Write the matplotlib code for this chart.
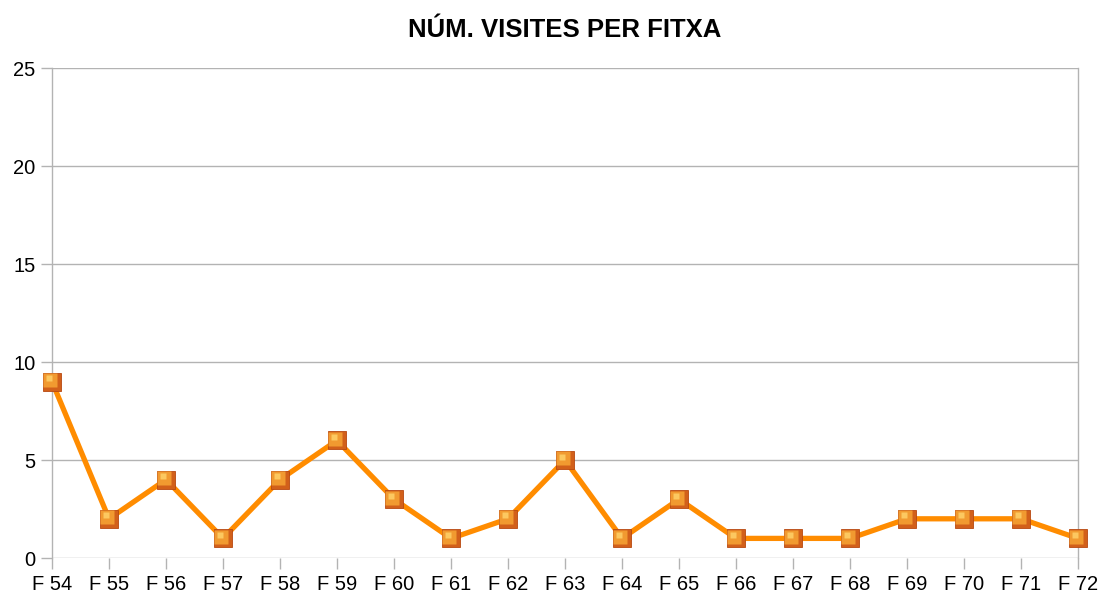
import matplotlib
matplotlib.use("Agg")
import matplotlib.pyplot as plt
import matplotlib.transforms as mtransforms

categories = ["F 54", "F 55", "F 56", "F 57", "F 58", "F 59", "F 60", "F 61", "F 62", "F 63",
              "F 64", "F 65", "F 66", "F 67", "F 68", "F 69", "F 70", "F 71", "F 72"]
visits = [9, 2, 4, 1, 4, 6, 3, 1, 2, 5, 1, 3, 1, 1, 1, 2, 2, 2, 1]
yticks = [0, 5, 10, 15, 20, 25]

plt.rcParams['font.family'] = ['Liberation Sans', 'DejaVu Sans']

fig = plt.figure(figsize=(11.04, 6.03), dpi=100)
ax = fig.add_axes([52/1104, 45/603, (1078-52)/1104, (558-68)/603])

x = list(range(len(categories)))
ax.plot(x, visits, color='#ff8c00', linewidth=3.8, zorder=3, solid_joinstyle='miter')
ax.plot(x, visits, linestyle='none', marker='s', markersize=12.5,
        markerfacecolor='#d2601a', markeredgecolor='#b84810', markeredgewidth=0.6, zorder=4)
off = mtransforms.offset_copy(ax.transData, fig=fig, x=-1.2, y=1.2, units='points')
ax.plot(x, visits, linestyle='none', marker='s', markersize=9.5,
        markerfacecolor='#f19a30', markeredgecolor='none', zorder=5, transform=off)
off2 = mtransforms.offset_copy(ax.transData, fig=fig, x=-2.5, y=2.5, units='points')
ax.plot(x, visits, linestyle='none', marker='s', markersize=5,
        markerfacecolor='#fcc860', markeredgecolor='none', zorder=6, transform=off2)

ax.set_xlim(0, len(categories) - 1)
ax.set_ylim(0, 25)
ax.set_xticks(x)
ax.set_xticklabels(categories)
ax.set_yticks(yticks)
ax.yaxis.grid(True, color='#b3b3b3', linewidth=1)
ax.set_axisbelow(True)
for s in ['top', 'bottom']:
    ax.spines[s].set_visible(False)
for s in ['left', 'right']:
    ax.spines[s].set_color('#b3b3b3')
    ax.spines[s].set_linewidth(1)
ax.tick_params(axis='both', colors='#b3b3b3', labelcolor='black', labelsize=14.5, length=8, width=1)
ax.tick_params(axis='x', pad=4)
ax.tick_params(axis='y', pad=4)
ax.set_title("NÚM. VISITES PER FITXA", fontsize=18.5, fontweight='bold', pad=22)
for artist in ax.lines:
    artist.set_clip_on(False)

fig.savefig("out.png", dpi=100)
